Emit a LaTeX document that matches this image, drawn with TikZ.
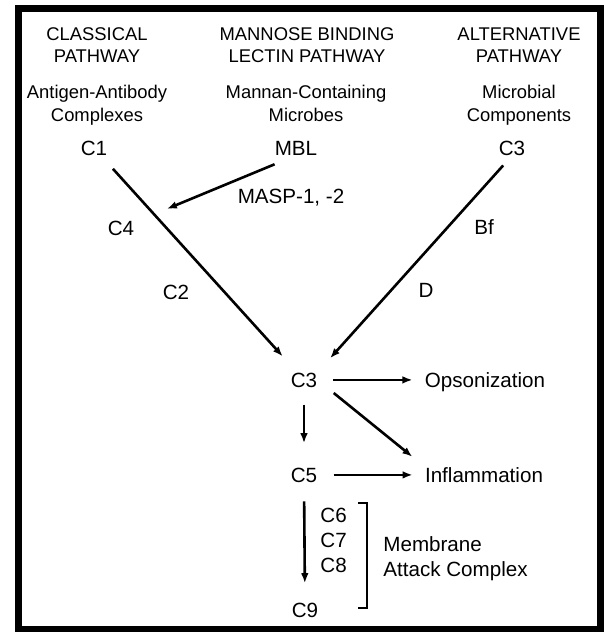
\documentclass[tikz,border=0pt]{standalone}
\usepackage{fontspec}
\setmainfont{Liberation Sans}
\usetikzlibrary{arrows.meta}
\newcommand{\headsize}{\fontsize{9.2}{11.3}\selectfont}
\newcommand{\labsize}{\fontsize{10.3}{12.5}\selectfont}

\begin{document}
\begin{tikzpicture}[x=0.5pt, y=-0.5pt,
    head/.style={font=\headsize, align=center, inner sep=0pt, anchor=north},
    lab/.style={font=\labsize, inner sep=0pt, anchor=base},
    flow/.style={line width=1.3pt, -{Latex[length=5pt,width=3.8pt]}}]
  \useasboundingbox (0,0) rectangle (604,632);
  \draw[line width=3.5pt] (18.5,8.5) rectangle (600,629);

  \node[head] (classical) at (97, 27) {CLASSICAL\\PATHWAY};
  \node[head] (lectin) at (307, 27) {MANNOSE BINDING\\LECTIN PATHWAY};
  \node[head] (alternative) at (519, 27) {ALTERNATIVE\\PATHWAY};

  \node[head] (complexes) at (97, 85) {Antigen-Antibody\\Complexes};
  \node[head] (mannan) at (306, 85) {Mannan-Containing\\Microbes};
  \node[head] (microbial) at (519, 85) {Microbial\\Components};

  \node[lab] (c1) at (94, 155) {C1};
  \node[lab] (mbl) at (296, 155) {MBL};
  \node[lab] (c3alt) at (512, 155) {C3};
  \node[lab] (masp) at (291, 203) {MASP-1, -2};
  \node[lab] (c4) at (121, 235) {C4};
  \node[lab] (bf) at (484, 234) {Bf};
  \node[lab] (c2) at (176, 299) {C2};
  \node[lab] (d) at (426, 297) {D};
  \node[lab] (c3) at (304, 387) {C3};
  \node[lab] (opson) at (485, 387) {Opsonization};
  \node[lab] (c5) at (304, 482) {C5};
  \node[lab] (inflam) at (484, 482) {Inflammation};
  \node[lab, align=left, anchor=north west] (c678) at (320, 508) {C6\\C7\\C8};
  \node[lab, align=left, anchor=north west] (mac) at (383, 536) {Membrane\\Attack Complex};
  \node[lab] (c9) at (305, 617) {C9};

  \draw[flow, shorten <=8.9pt, shorten >=10.7pt] (c1) -- (c3);
  \draw[flow, shorten <=11.6pt, shorten >=17.5pt] (mbl.south) -- (c4);
  \draw[flow, shorten <=6.6pt, shorten >=9.4pt] (c3alt.south) -- (c3.north east);
  \draw[flow, shorten <=7.9pt, shorten >=6pt] (c3.east) -- (c3.east -| opson.west);
  \draw[flow, shorten <=10.4pt, shorten >=7.9pt] (c3.east) -- (inflam.north west);
  \draw[flow, shorten <=8.5pt, shorten >=12pt] (c3.south) -- (c5.north);
  \draw[flow, shorten <=8pt, shorten >=6pt] (c5.east) -- (c5.east -| inflam.west);
  \draw[flow, shorten <=9.4pt, shorten >=9.5pt] (c5.south) -- (c9.north);

  \draw[line width=1.3pt] (358,503) -- (367,503) -- (367,608) -- (358,608);
\end{tikzpicture}
\end{document}
